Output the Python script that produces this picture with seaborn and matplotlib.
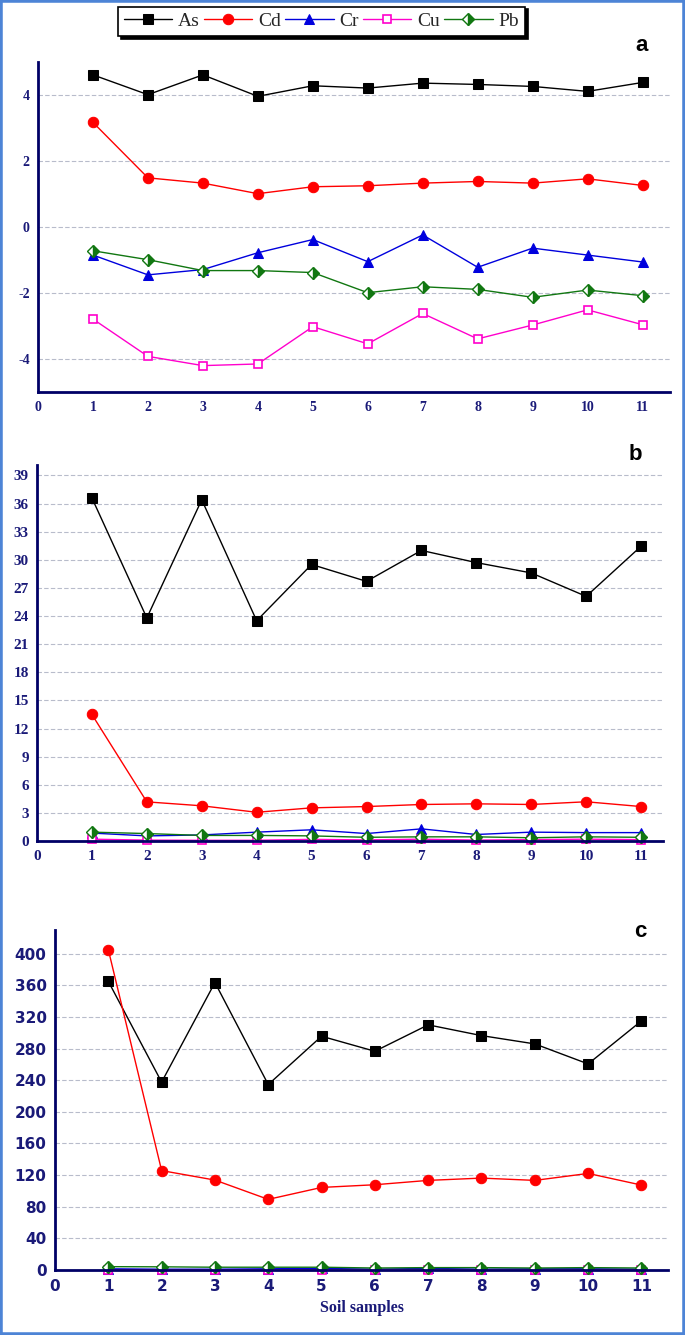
import numpy as np
import pandas as pd
import seaborn as sns
import matplotlib.pyplot as plt
from matplotlib.patches import Rectangle

# ---------------- data ----------------
samples = list(range(1, 12))
metals = ["As", "Cd", "Cr", "Cu", "Pb"]

# panel a
a_as = [4.6, 4.0, 4.6, 3.95, 4.27, 4.2, 4.35, 4.31, 4.25, 4.1, 4.37]
a_cd = [3.16, 1.48, 1.32, 1.0, 1.21, 1.24, 1.32, 1.37, 1.32, 1.45, 1.25]
a_cr = [-0.86, -1.46, -1.3, -0.79, -0.39, -1.06, -0.25, -1.23, -0.65, -0.86, -1.07]
a_cu = [-2.8, -3.93, -4.21, -4.16, -3.03, -3.55, -2.63, -3.4, -2.98, -2.52, -2.97]
a_pb = [-0.73, -1.0, -1.33, -1.33, -1.39, -2.0, -1.82, -1.9, -2.14, -1.92, -2.09]

# panel b
b_as = [36.6, 23.8, 36.4, 23.5, 29.5, 27.7, 31.0, 29.7, 28.6, 26.1, 31.45]
b_cd = [13.5, 4.18, 3.76, 3.07, 3.54, 3.68, 3.9, 3.97, 3.9, 4.19, 3.68]
b_cr = [0.85, 0.55, 0.65, 0.95, 1.2, 0.8, 1.3, 0.7, 0.95, 0.9, 0.9]
b_cu = [0.2, 0.1, 0.08, 0.08, 0.18, 0.12, 0.2, 0.1, 0.15, 0.2, 0.15]
b_pb = [0.95, 0.8, 0.6, 0.6, 0.55, 0.4, 0.45, 0.45, 0.35, 0.45, 0.4]

# panel c
c_as = [365, 237.6, 363.5, 234.5, 295.6, 276.6, 310, 296.4, 285.9, 260.6, 315]
c_cd = [405, 125.7, 113.7, 89.3, 104.4, 107.8, 113.3, 116.2, 113.3, 122.1, 107.4]
c_cr = [1.5, 1.0, 1.0, 1.5, 2.0, 1.0, 2.0, 1.0, 1.5, 1.5, 1.0]
c_cu = [0.3, 0.2, 0.1, 0.1, 0.2, 0.2, 0.3, 0.1, 0.2, 0.3, 0.2]
c_pb = [4.2, 4.0, 3.5, 3.5, 3.5, 2.5, 3.0, 3.0, 2.5, 3.0, 2.5]

# ---------------- style ----------------
sns.set_style("white")
plt.rcParams["font.family"] = ["Liberation Serif", "DejaVu Serif"]
plt.rcParams["axes.unicode_minus"] = False

navy = "#1a1a78"
axis_col = "#000066"
styles = {
    "As": dict(color="black", marker="s", markersize=6.5, markerfacecolor="black",
               markeredgecolor="black"),
    "Cd": dict(color="red", marker="o", markersize=7.5, markerfacecolor="red",
               markeredgecolor="red"),
    "Cr": dict(color="#0000dd", marker="^", markersize=7.5, markerfacecolor="#0000dd",
               markeredgecolor="#0000dd"),
    "Cu": dict(color="#ff00cc", marker="s", markersize=6, markerfacecolor="white",
               markeredgecolor="#ff00cc", markeredgewidth=1.2),
    "Pb": dict(color="#117711", marker="D", markersize=6.5, fillstyle="right",
               markerfacecoloralt="white", markerfacecolor="#117711",
               markeredgecolor="#117711", markeredgewidth=1.0),
}

fig = plt.figure(figsize=(6.85, 13.35), dpi=100)
ax_a = fig.add_axes([0.0555, 0.7066, 0.9226, 0.2472])
ax_b = fig.add_axes([0.054, 0.370, 0.914, 0.2816])
ax_c = fig.add_axes([0.0803, 0.0487, 0.895, 0.2547])

panels = [
    (ax_a, [a_as, a_cd, a_cr, a_cu, a_pb], (-5, 5), np.arange(-4, 5, 2), 11.5, "a", 1.05),
    (ax_b, [b_as, b_cd, b_cr, b_cu, b_pb], (0, 40.1), np.arange(0, 40, 3), 11.4, "b", 1.027),
    (ax_c, [c_as, c_cd, c_cr, c_cu, c_pb], (0, 430), np.arange(0, 401, 40), 11.5, "c", 0.995),
]

for ax, series, ylim, yticks, xmax, tag, tag_y in panels:
    for name, vals in zip(metals, series):
        sns.lineplot(x=samples, y=vals, ax=ax, linewidth=1.0, label=name,
                     clip_on=False, legend=False, **styles[name])
    ax.set_xlim(0, xmax)
    ax.set_ylim(*ylim)
    ax.set_xticks(range(0, 12))
    ax.set_yticks(yticks)
    for y in yticks:
        if y != 0 or tag == "a":
            ax.axhline(y, color="#b8bccb", lw=0.8, ls=(0, (4, 2)), zorder=0)
    for s in ["top", "right"]:
        ax.spines[s].set_visible(False)
    for s in ["left", "bottom"]:
        ax.spines[s].set_color(axis_col)
        ax.spines[s].set_linewidth(2)
    ax.tick_params(axis="y", direction="out", length=4, width=1.5, color=axis_col, pad=2)
    ax.tick_params(axis="x", direction="inout", length=7, width=1.5, color=axis_col, pad=3)
    ax.set_facecolor("none")
    if tag == "c":
        lab_font = dict(family=["DejaVu Sans"], weight="bold", size=11)
    elif tag == "b":
        lab_font = dict(family=["Liberation Serif", "DejaVu Serif"], weight="bold", size=11)
    else:
        lab_font = dict(family=["Liberation Serif", "DejaVu Serif"], weight="bold", size=10)
    for t in ax.get_xticklabels() + ax.get_yticklabels():
        t.set_fontproperties(lab_font)
        t.set_color(navy)
    ax.text(0.955, tag_y, tag, transform=ax.transAxes,
            fontsize=16, fontweight="bold", family=["Liberation Sans", "DejaVu Sans"],
            ha="center", va="center", color="black")

ax_c.set_xlabel("Soil samples", fontsize=11.5, fontweight="bold", color=navy, labelpad=4)

handles, labels = ax_a.get_legend_handles_labels()
leg = fig.legend(handles, labels, loc="center", bbox_to_anchor=(0.469, 0.984), ncol=5,
                 frameon=True, fancybox=False, edgecolor="black", fontsize=14,
                 handlelength=2.5, handletextpad=0.3, columnspacing=0.2,
                 borderpad=0.3, shadow={"color": "black", "alpha": 1})
leg.get_frame().set_linewidth(1.2)

fig.patches.append(Rectangle((0, 0), 1, 1, transform=fig.transFigure, fill=False,
                             edgecolor="#4d84d6", linewidth=4))

fig.savefig("out.png", dpi=100)
